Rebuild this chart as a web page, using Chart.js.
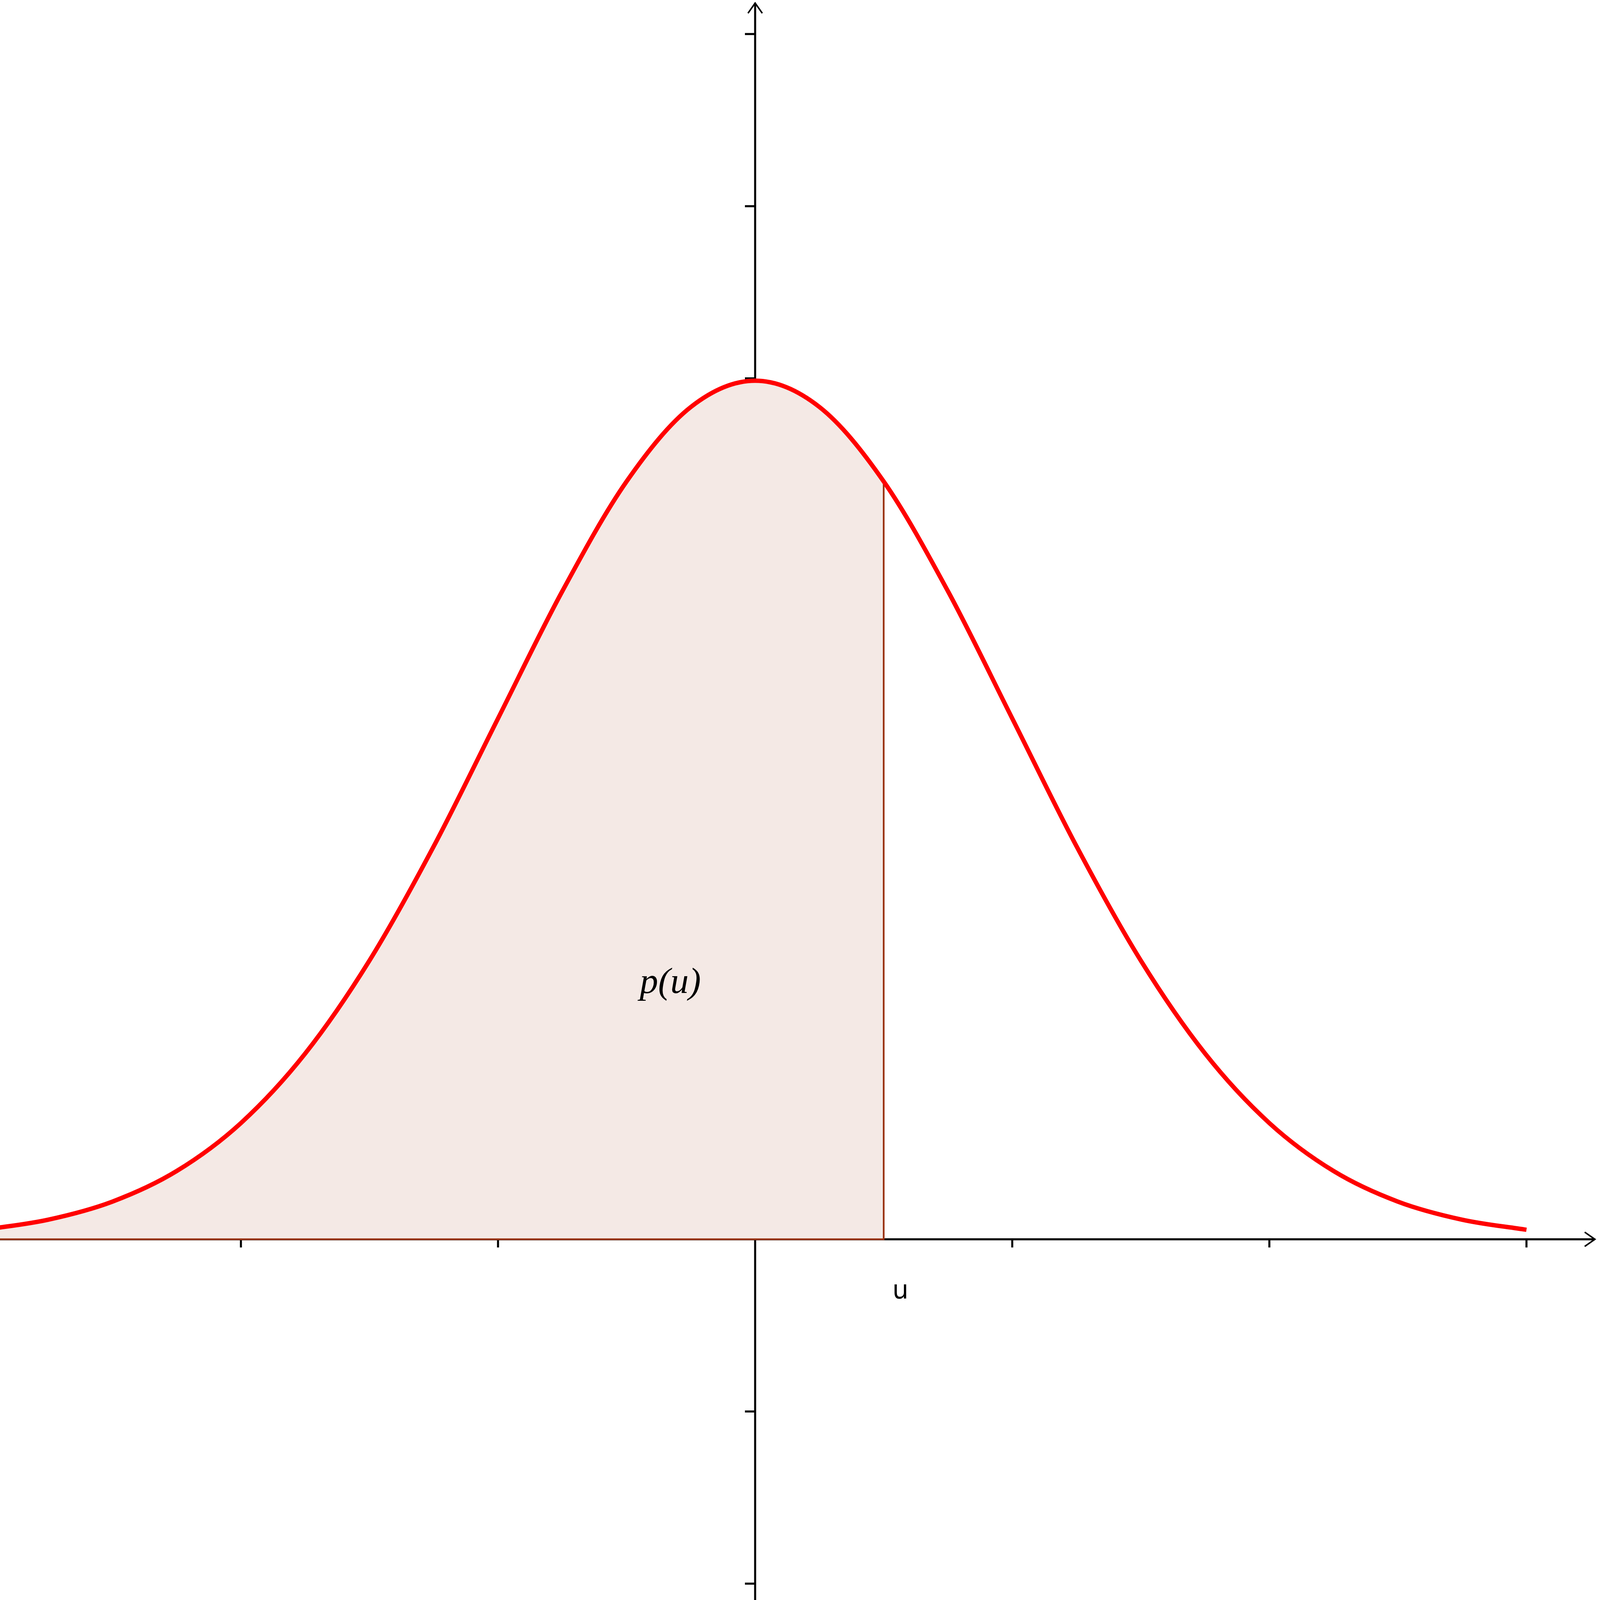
<!DOCTYPE html>
<html><head><meta charset="utf-8">
<script src="https://cdn.jsdelivr.net/npm/chart.js@4/dist/chart.umd.min.js"></script>
<style>html,body{margin:0;padding:0;background:#fff;overflow:hidden}#wrap{position:absolute;left:0;top:0;width:100vw;height:100vh}canvas{display:block}</style>
</head><body>
<div id="wrap"><canvas id="c"></canvas></div>
<script>
const uValues = [-3,-2.75,-2.5,-2.25,-2,-1.75,-1.5,-1.25,-1,-0.75,-0.5,-0.25,0,0.25,0.5,0.75,1,1.25,1.5,1.75,2,2.25,2.5,2.75,3];
const pValues = [0.0044,0.0091,0.0175,0.0317,0.0540,0.0863,0.1295,0.1826,0.2420,0.3011,0.3521,0.3867,0.3989,0.3867,0.3521,0.3011,0.2420,0.1826,0.1295,0.0863,0.0540,0.0317,0.0175,0.0091,0.0044];
const shadeLimit = 0.5;
const xTicks = [-2,-1,1,2,3];
const yTicks = [-0.16,-0.08,0.08,0.16,0.24,0.32,0.40,0.48,0.56];
const curveLabel = 'p(u)';
const axisLabel = 'u';

const curve = uValues.map((u,i)=>({x:u,y:pValues[i]}));
const shade = curve.filter(p=>p.x<=shadeLimit);
const shadeTop = pValues[uValues.indexOf(shadeLimit)];
const k = window.innerWidth/1568;

const axesPlugin = {
  id:'axes',
  beforeDatasetsDraw(chart){
    const {ctx, scales:{x,y}} = chart;
    const W = chart.width, H = chart.height;
    const x0 = x.getPixelForValue(0), y0 = y.getPixelForValue(0);
    ctx.save();
    ctx.strokeStyle='#000'; ctx.lineWidth=2*k; ctx.lineCap='butt';
    ctx.beginPath();
    ctx.moveTo(0,y0); ctx.lineTo(W-5*k,y0);
    ctx.moveTo(x0,H); ctx.lineTo(x0,3*k);
    ctx.stroke();
    ctx.lineWidth=1.5*k;
    ctx.beginPath();
    ctx.moveTo(W-15*k,y0-7*k); ctx.lineTo(W-5*k,y0); ctx.lineTo(W-15*k,y0+7*k);
    ctx.moveTo(x0-7*k,13*k); ctx.lineTo(x0,3*k); ctx.lineTo(x0+7*k,13*k);
    ctx.stroke();
    ctx.lineWidth=2*k;
    ctx.beginPath();
    xTicks.forEach(t=>{const px=x.getPixelForValue(t); ctx.moveTo(px,y0); ctx.lineTo(px,y0+8*k);});
    yTicks.forEach(t=>{const py=y.getPixelForValue(t); ctx.moveTo(x0,py); ctx.lineTo(x0-10*k,py);});
    ctx.stroke();
    ctx.restore();
  },
  afterDatasetsDraw(chart){
    const {ctx, scales:{x,y}} = chart;
    ctx.save();
    ctx.fillStyle='#000';
    ctx.font='italic '+Math.round(36*k)+'px "Liberation Serif"';
    ctx.textAlign='center'; ctx.textBaseline='middle';
    ctx.fillText(curveLabel, x.getPixelForValue(-0.33), y.getPixelForValue(0.119));
    ctx.font=Math.round(25*k)+'px "DejaVu Sans"';
    ctx.fillText(axisLabel, x.getPixelForValue(0.565), y.getPixelForValue(-0.0245));
    ctx.restore();
  }
};

new Chart(document.getElementById('c'),{
  type:'line',
  data:{datasets:[
    {data:shade, fill:'origin', backgroundColor:'#f4e9e5', borderWidth:0, pointRadius:0, cubicInterpolationMode:'monotone', order:3},
    {data:[{x:-2.94,y:0},{x:shadeLimit,y:0},{x:shadeLimit,y:shadeTop}], borderColor:'#9a3412', borderWidth:1.7*k, pointRadius:0, tension:0, fill:false, order:2},
    {data:curve, borderColor:'#ff0000', borderWidth:4.3*k, pointRadius:0, cubicInterpolationMode:'monotone', fill:false, order:1}
  ]},
  options:{
    responsive:true, maintainAspectRatio:false, animation:false,
    layout:{padding:0},
    plugins:{legend:{display:false}, tooltip:{enabled:false}},
    scales:{
      x:{type:'linear', min:-2.937, max:3.286, display:false},
      y:{type:'linear', min:-0.1676, max:0.5758, display:false}
    }
  },
  plugins:[axesPlugin]
});
</script>
</body></html>
